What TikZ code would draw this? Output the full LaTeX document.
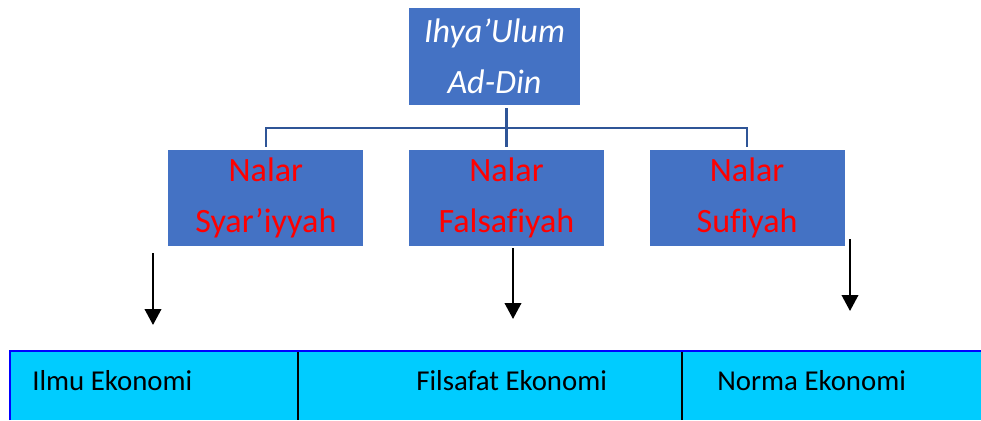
\documentclass[tikz,border=0pt]{standalone}
\usepackage{fontspec}
\setmainfont{Carlito}[Ligatures=NoCommon]
\usetikzlibrary{positioning}
\usetikzlibrary{arrows.meta}
\definecolor{boxblue}{HTML}{4472C4}
\definecolor{linkblue}{HTML}{2F5597}
\definecolor{tablecyan}{HTML}{00CCFF}
\definecolor{tableedge}{HTML}{0000FF}
\tikzset{
    x=0.02cm, y=-0.02cm,
    kitab/.style={
        fill=boxblue,
        text=white,
        align=center,
        inner sep=0pt,
        minimum width=3.42cm,
        minimum height=1.94cm,
        font=\fontsize{19.4pt}{29pt}\selectfont\itshape
    },
    nalar/.style={
        fill=boxblue,
        text=red,
        align=center,
        inner sep=0pt,
        minimum width=3.9cm,
        minimum height=1.92cm,
        font=\fontsize{19.4pt}{29pt}\selectfont
    },
    link/.style={
        draw=linkblue,
        line width=1.15pt
    },
    turun/.style={
        draw=black,
        line width=1.3pt,
        -{Triangle[width=0.33cm,length=0.32cm]}
    },
    sel/.style={
        anchor=base west,
        inner sep=0pt,
        font=\fontsize{16.4pt}{19pt}\selectfont
    }
}

\begin{document}
\begin{tikzpicture}
    \useasboundingbox (0,0) rectangle (981,420);

    % kitab and the three nalar
    \node[kitab] (top) at (494.5,56.5) {Ihya’Ulum\\Ad-Din};
    \node[nalar] (fals) at (506.5,198) {Nalar\\Falsafiyah};
    \node[nalar, left=0.9cm of fals] (syar) {Nalar\\Syar’iyyah};
    \node[nalar, right=0.9cm of fals] (sufi) {Nalar\\Sufiyah};

    \coordinate (bus) at (506.5,128);
    \draw[link] ([yshift=-0.06cm]top.south -| fals.north) -- ([yshift=0.06cm]fals.north);
    \draw[link] ([yshift=0.06cm]syar.north) |- (bus) -| ([yshift=0.06cm]sufi.north);

    % arrows down
    \coordinate (syar-a) at (153,253);
    \coordinate (syar-b) at (153,325);
    \coordinate (fals-a) at (513,248);
    \coordinate (fals-b) at (513,319);
    \coordinate (sufi-a) at (850,239);
    \coordinate (sufi-b) at (850,311);
    \draw[turun] (syar-a) -- (syar-b);
    \draw[turun] (fals-a) -- (fals-b);
    \draw[turun] (sufi-a) -- (sufi-b);

    % table row
    \fill[tablecyan] (10,351) rectangle (981,420);
    \draw[tableedge, line width=0.9pt] (10,420) -- (10,351) -- (981,351);
    \draw[black, line width=1.1pt] (298,352) -- (298,420);
    \draw[black, line width=1.1pt] (682,352) -- (682,420);
    \node[sel] (ilmu) at (32,390) {Ilmu Ekonomi};
    \node[sel] (filsafat) at (416,390) {Filsafat Ekonomi};
    \node[sel] (norma) at (717,390) {Norma Ekonomi};
\end{tikzpicture}
\end{document}
